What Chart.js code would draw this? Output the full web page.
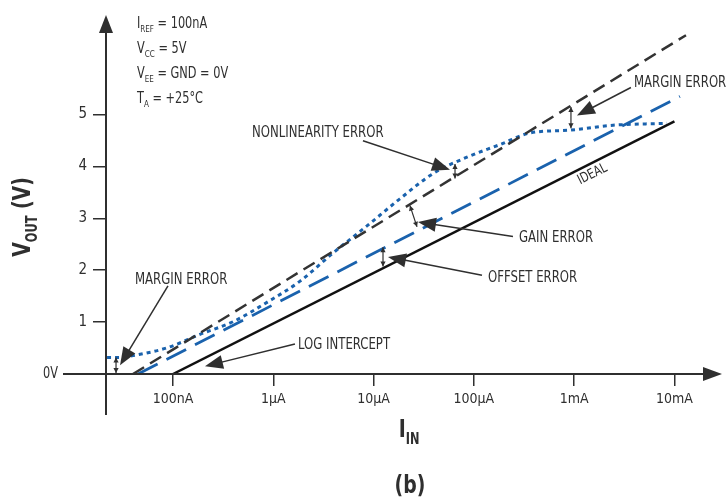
<!DOCTYPE html>
<html>
<head>
<meta charset="utf-8">
<script src="https://cdn.jsdelivr.net/npm/chart.js@4.4.1/dist/chart.umd.min.js"></script>
<style>
  html, body { margin: 0; padding: 0; background: #fff; }
</style>
</head>
<body>
<canvas id="chart" width="727" height="504"></canvas>
<script>
const FAMILY = "'Liberation Sans Narrow', 'DejaVu Sans Condensed', 'Liberation Sans', sans-serif";
const ink = "#2f2f2f";
const blue = "#1a62ad";

// axes: current in amps (log), output in volts
const xTickValues = [1e-7, 1e-6, 1e-5, 1e-4, 1e-3, 1e-2];
const xTickLabels = ["100nA", "1µA", "10µA", "100µA", "1mA", "10mA"];
const yTickValues = [0, 1, 2, 3, 4, 5];
const yTickLabels = ["0V", "1", "2", "3", "4", "5"];
const xMin = 2.148e-8;
const xMax = 2.979e-2;
const yMax = 6.92;

// ideal transfer line
const idealI = [1e-7, 1e-2];
const idealV = [0, 4.87];
// line with gain error (black dashed)
const gainI = [3.99e-8, 1.303e-2];
const gainV = [0, 6.53];
// line with offset error (blue dashed)
const offsetI = [4.48e-8, 1.135e-2];
const offsetV = [0, 5.35];
// real output with nonlinearity and margin error (blue dotted)
const actualI = [2.20e-8, 2.96e-8, 3.99e-8, 8.71e-8, 1.86e-7, 3.96e-7, 8.65e-7, 1.85e-6, 3.94e-6,
                 8.59e-6, 1.83e-5, 3.91e-5, 8.53e-5, 1.82e-4, 3.62e-4, 9.08e-4, 2.44e-3, 8.41e-3];
const actualV = [0.317, 0.317, 0.354, 0.504, 0.765, 1.007, 1.381, 1.791, 2.332,
                 2.854, 3.377, 3.862, 4.179, 4.422, 4.646, 4.701, 4.795, 4.832];

// callouts, in log10(amps) / volts
const notes = [
  { text: "NONLINEARITY ERROR", at: [-6.212, 4.571], from: [-5.106, 4.496], tip: [-4.238, 3.937], gap: [[-4.188, 4.049], [-4.188, 3.769]] },
  { text: "MARGIN ERROR", at: [-2.404, 5.541], from: [-2.434, 5.522], tip: [-2.972, 4.981], gap: [[-3.032, 5.149], [-3.032, 4.739]] },
  { text: "GAIN ERROR", at: [-3.550, 2.537], from: [-3.610, 2.649], tip: [-4.557, 2.929], gap: [[-4.637, 3.246], [-4.567, 2.836]] },
  { text: "OFFSET ERROR", at: [-3.859, 1.772], from: [-3.919, 1.903], tip: [-4.856, 2.257], gap: [[-4.906, 2.444], [-4.906, 2.071]] },
  { text: "MARGIN ERROR", at: [-7.379, 1.735], from: [-7.050, 1.698], tip: [-7.528, 0.168], gap: [[-7.568, 0.317], [-7.568, 0.019]] },
  { text: "LOG INTERCEPT", at: [-5.754, 0.485], from: [-5.784, 0.578], tip: [-6.681, 0.149] }
];

const conditions = [
  [["I", 0], ["REF", 1], [" = 100nA", 0]],
  [["V", 0], ["CC", 1], [" = 5V", 0]],
  [["V", 0], ["EE", 1], [" = GND = 0V", 0]],
  [["T", 0], ["A", 1], [" = +25°C", 0]]
];

const SQUEEZE = 0.84;

const toPoints = (xs, ys) => xs.map((v, i) => ({ x: v, y: ys[i] }));

function seg(ctx, x1, y1, x2, y2) {
  ctx.beginPath();
  ctx.moveTo(x1, y1);
  ctx.lineTo(x2, y2);
  ctx.stroke();
}

function head(ctx, x1, y1, x2, y2, len, half) {
  const a = Math.atan2(y2 - y1, x2 - x1);
  const bx = x2 - len * Math.cos(a), by = y2 - len * Math.sin(a);
  ctx.beginPath();
  ctx.moveTo(x2, y2);
  ctx.lineTo(bx + half * Math.sin(a), by - half * Math.cos(a));
  ctx.lineTo(bx - half * Math.sin(a), by + half * Math.cos(a));
  ctx.closePath();
  ctx.fill();
}

// horizontally condensed text, left aligned
function narrow(ctx, s, x, y) {
  ctx.save();
  ctx.translate(x, y);
  ctx.scale(SQUEEZE, 1);
  ctx.fillText(s, 0, 0);
  ctx.restore();
  return ctx.measureText(s).width * SQUEEZE;
}

// text with subscripts, parts = [[str, isSub], ...]
function subText(ctx, parts, x, y, size, subSize, weight) {
  let w = 0;
  parts.forEach(([s, sub]) => {
    ctx.font = `${weight} ${sub ? subSize : size}px ${FAMILY}`;
    w += narrow(ctx, s, x + w, sub ? y + size * 0.28 : y);
  });
  return w;
}

function measureParts(ctx, parts, size, subSize, weight) {
  return parts.reduce((w, [s, sub]) => {
    ctx.font = `${weight} ${sub ? subSize : size}px ${FAMILY}`;
    return w + ctx.measureText(s).width * SQUEEZE;
  }, 0);
}

const overlay = {
  id: "overlay",
  afterDraw(chart) {
    const { ctx, chartArea: a, scales: { x, y } } = chart;
    const P = (lg, v) => [x.getPixelForValue(10 ** lg), y.getPixelForValue(v)];
    const y0 = y.getPixelForValue(0);
    ctx.save();
    ctx.strokeStyle = ink;
    ctx.fillStyle = ink;

    // axes with arrows
    ctx.lineWidth = 2;
    seg(ctx, a.left - 43, y0, a.right - 12, y0);
    head(ctx, a.right - 20, y0, a.right, y0, 19, 7);
    seg(ctx, a.left, y0 + 41, a.left, a.top + 12);
    head(ctx, a.left, a.top + 20, a.left, a.top, 18, 7);

    // zero label sits left of the extended x axis
    ctx.font = `15px ${FAMILY}`;
    ctx.textBaseline = "middle";
    const zw = ctx.measureText(yTickLabels[0]).width * SQUEEZE;
    narrow(ctx, yTickLabels[0], a.left - 48 - zw, y0);

    // callouts
    ctx.textBaseline = "alphabetic";
    ctx.textAlign = "left";
    notes.forEach(n => {
      const [tx, ty] = P(...n.at);
      ctx.font = `15.5px ${FAMILY}`;
      narrow(ctx, n.text, tx, ty);
      const [fx, fy] = P(...n.from);
      const [px, py] = P(...n.tip);
      ctx.lineWidth = 1.5;
      const ang = Math.atan2(py - fy, px - fx);
      seg(ctx, fx, fy, px - 10 * Math.cos(ang), py - 10 * Math.sin(ang));
      head(ctx, fx, fy, px, py, 18, 7);
      if (n.gap) {
        const [g1x, g1y] = P(...n.gap[0]);
        const [g2x, g2y] = P(...n.gap[1]);
        ctx.lineWidth = 1.2;
        seg(ctx, g1x, g1y, g2x, g2y);
        head(ctx, g2x, g2y, g1x, g1y, 5, 2.6);
        head(ctx, g1x, g1y, g2x, g2y, 5, 2.6);
      }
    });

    // IDEAL label along the ideal line
    const [ix1, iy1] = [x.getPixelForValue(idealI[0]), y.getPixelForValue(idealV[0])];
    const [ix2, iy2] = [x.getPixelForValue(idealI[1]), y.getPixelForValue(idealV[1])];
    const [lx, ly] = P(-2.818, 3.85);
    ctx.save();
    ctx.translate(lx, ly);
    ctx.rotate(Math.atan2(iy2 - iy1, ix2 - ix1));
    ctx.scale(SQUEEZE, 1);
    ctx.textAlign = "center";
    ctx.textBaseline = "middle";
    ctx.font = `14px ${FAMILY}`;
    ctx.fillText("IDEAL", 0, 0);
    ctx.restore();

    // test conditions
    conditions.forEach((parts, i) => {
      subText(ctx, parts, a.left + 31, 28 + i * 25, 15, 9.5, "normal");
    });

    // axis titles
    const yTitle = [["V", 0], ["OUT", 1], [" (V)", 0]];
    ctx.save();
    ctx.translate(22, 217);
    ctx.rotate(-Math.PI / 2);
    const wy = measureParts(ctx, yTitle, 25, 15, "bold");
    subText(ctx, yTitle, -wy / 2, 8, 25, 15, "bold");
    ctx.restore();

    const xTitle = [["I", 0], ["IN", 1]];
    const wx = measureParts(ctx, xTitle, 25, 15, "bold");
    subText(ctx, xTitle, 409 - wx / 2, 437, 25, 15, "bold");

    ctx.font = `bold 25px ${FAMILY}`;
    const wb = ctx.measureText("(b)").width * SQUEEZE;
    narrow(ctx, "(b)", 410 - wb / 2, 493);
    ctx.restore();
  }
};

const tickFont = { family: FAMILY, size: 14 };

new Chart(document.getElementById("chart"), {
  type: "line",
  data: {
    datasets: [
      {
        label: "Ideal",
        data: toPoints(idealI, idealV),
        borderColor: "#111",
        borderWidth: 2.5
      },
      {
        label: "Gain error",
        data: toPoints(gainI, gainV),
        borderColor: "#333",
        borderWidth: 2.5,
        borderDash: [13, 7]
      },
      {
        label: "Offset error",
        data: toPoints(offsetI, offsetV),
        borderColor: blue,
        borderWidth: 2.8,
        borderDash: [22, 10]
      },
      {
        label: "Actual",
        data: toPoints(actualI, actualV),
        borderColor: blue,
        borderWidth: 3,
        borderDash: [4, 4],
        cubicInterpolationMode: "monotone"
      }
    ]
  },
  options: {
    responsive: false,
    animation: false,
    devicePixelRatio: 1,
    layout: { padding: { left: 0, right: 5, top: 3, bottom: 0 } },
    elements: { point: { radius: 0 }, line: { borderCapStyle: "butt" } },
    plugins: {
      legend: { display: false },
      tooltip: { enabled: false }
    },
    scales: {
      x: {
        type: "logarithmic",
        min: xMin,
        max: xMax,
        afterFit: s => { s.height = 130; },
        afterBuildTicks: s => { s.ticks = xTickValues.map(v => ({ value: v })); },
        ticks: {
          callback: (v, i) => xTickLabels[i],
          color: ink,
          font: tickFont,
          padding: 5,
          maxRotation: 0,
          autoSkip: false
        },
        grid: { drawOnChartArea: false, tickLength: 12, color: ink, lineWidth: 1.5 },
        border: { display: false }
      },
      y: {
        type: "linear",
        min: 0,
        max: yMax,
        afterFit: s => { s.width = 106; },
        afterBuildTicks: s => { s.ticks = yTickValues.map(v => ({ value: v })); },
        ticks: {
          // zero is labelled by the overlay, left of the extended axis
          callback: (v, i) => (i === 0 ? "" : yTickLabels[i]),
          color: ink,
          font: { family: FAMILY, size: 15 },
          padding: 6,
          autoSkip: false
        },
        grid: { drawOnChartArea: false, tickLength: 13, color: ink, lineWidth: 1.5 },
        border: { display: false }
      }
    }
  },
  plugins: [overlay]
});
</script>
</body>
</html>
